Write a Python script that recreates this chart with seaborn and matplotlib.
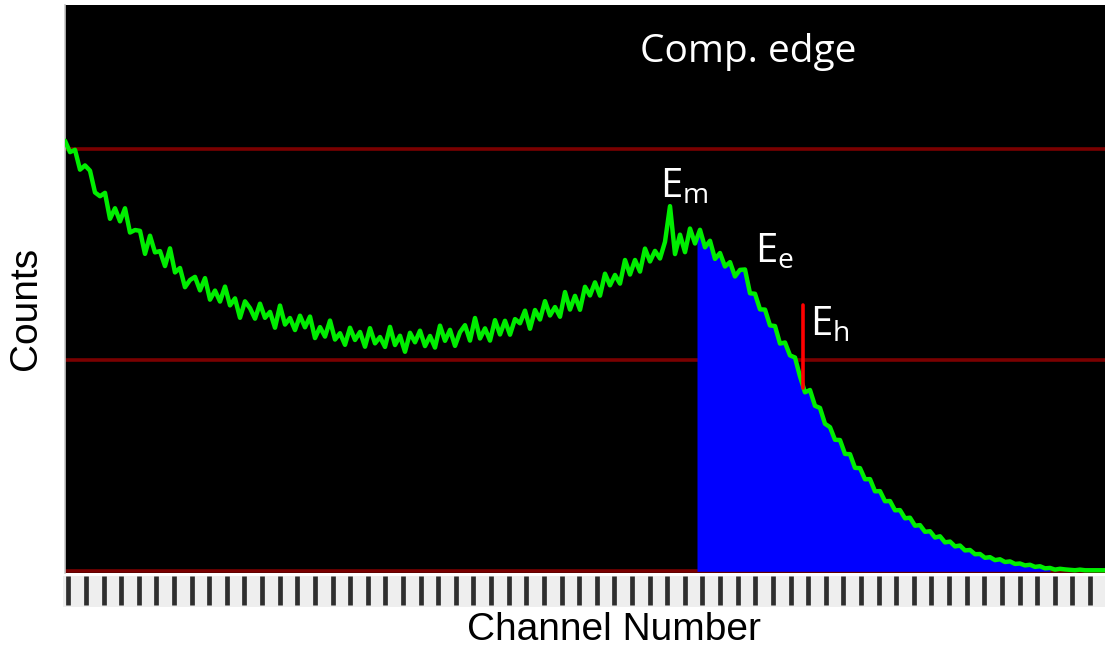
import numpy as np
import pandas as pd
import matplotlib
matplotlib.use("Agg")
import matplotlib.pyplot as plt
import seaborn as sns

# ---------------- data ----------------
channels = list(range(0, 1045, 5))
counts = [
    2040, 1986, 1997, 1903, 1923, 1898, 1795, 1777, 1793, 1670,
    1720, 1658, 1720, 1605, 1617, 1613, 1504, 1590, 1511, 1517,
    1446, 1530, 1416, 1437, 1346, 1380, 1395, 1331, 1389, 1287,
    1330, 1278, 1349, 1260, 1293, 1201, 1279, 1247, 1197, 1268,
    1201, 1229, 1154, 1259, 1169, 1200, 1143, 1211, 1156, 1207,
    1105, 1157, 1112, 1188, 1098, 1128, 1073, 1154, 1096, 1134,
    1064, 1152, 1080, 1110, 1063, 1158, 1072, 1116, 1040, 1130,
    1085, 1140, 1067, 1115, 1060, 1164, 1092, 1144, 1068, 1133,
    1166, 1093, 1200, 1103, 1151, 1093, 1190, 1122, 1187, 1121,
    1195, 1175, 1235, 1149, 1238, 1193, 1280, 1212, 1252, 1206,
    1323, 1240, 1305, 1239, 1348, 1307, 1369, 1306, 1410, 1355,
    1404, 1363, 1475, 1406, 1475, 1420, 1529, 1468, 1518, 1482,
    1561, 1730, 1503, 1595, 1512, 1624, 1553, 1618, 1535, 1566,
    1480, 1508, 1444, 1465, 1397, 1428, 1430, 1317, 1315, 1241,
    1240, 1165, 1162, 1079, 1084, 1023, 1013, 923, 848, 859,
    784, 774, 699, 683, 623, 622, 556, 555, 490, 489,
    436, 437, 379, 380, 332, 333, 289, 290, 251, 254,
    216, 219, 187, 190, 160, 166, 137, 141, 118, 122,
    99, 101, 81, 82, 64, 67, 53, 57, 44, 47,
    35, 37, 28, 31, 21, 24, 14, 16, 8, 12,
    9, 7, 5, 8, 5, 5, 5, 5, 5,
]
grid_levels = [0, 1000, 2000]
edge_start = 632      # start of shaded Compton-edge region (channel)
edge_end = 985        # end of shaded region (channel)
eh_channel = 738      # E_h marker position
eh_range = [870, 1260]
annotations = [("E", "m", 595, 1773), ("E", "e", 690, 1465), ("E", "h", 745, 1119)]
title_text = "Comp. edge"

df = pd.DataFrame({"channel": channels, "counts": counts})

# ---------------- figure ----------------
sns.set_theme(style="white")
plt.rcParams["font.family"] = ["Liberation Sans", "DejaVu Sans"]

W, H = 1105, 653
fig = plt.figure(figsize=(W / 100, H / 100), dpi=100)
fig.patch.set_facecolor("white")

ax = fig.add_axes([65 / W, 1 - 573 / H, 1 - 65 / W, (573 - 5) / H])
ax.set_facecolor("black")
xmin, xmax = 0, 1040
ax.set_xlim(xmin, xmax)
ax.set_ylim(-8, 2683)

for lv in grid_levels:
    ax.axhline(lv, color="#7a0000", lw=2.6, zorder=1)

# shaded region under curve
x_arr = np.array(channels, dtype=float)
y_arr = np.array(counts, dtype=float)
mask = (x_arr > edge_start) & (x_arr <= edge_end)
fx = np.concatenate([[edge_start], x_arr[mask]])
fy = np.concatenate([[np.interp(edge_start, x_arr, y_arr)], y_arr[mask]])
ax.fill_between(fx, 0, fy, color="#0000ff", lw=0, zorder=2)

sns.lineplot(data=df, x="channel", y="counts", ax=ax, color="#00ee00",
             lw=3.2, zorder=3, legend=False)

ax.plot([eh_channel, eh_channel], eh_range, color="#ff0000", lw=2.6, zorder=4)

for big, sub, xc, yc in annotations:
    ax.text(xc, yc, r"$\mathregular{%s_{%s}}$" % (big, sub), color="white",
            fontsize=29, family=["Open Sans", "DejaVu Sans"], zorder=5)

ax.text((640 - 65) / 1040, (573 - 52) / 568, title_text, transform=ax.transAxes,
        color="white", fontsize=28, family=["Open Sans", "DejaVu Sans"],
        ha="left", va="center")

ax.set_xticks([])
ax.set_yticks([])
for s in ["top", "right", "bottom"]:
    ax.spines[s].set_visible(False)
ax.spines["left"].set_color("#c8c8c8")
ax.spines["left"].set_linewidth(1.2)
ax.set_xlabel("")
ax.set_ylabel("")

# ruler strip under the plot
ax2 = fig.add_axes([63 / W, 1 - 607 / H, 1 - 63 / W, (607 - 576) / H])
ax2.set_facecolor("#eeeeee")
ax2.set_xlim(-2, xmax)
ax2.set_ylim(0, 1)
ruler = np.arange(59) * 17.616 + 3.3
ax2.vlines(ruler, 0.06, 1.0, color="#2e2e2e", lw=3.4)
ax2.set_xticks([])
ax2.set_yticks([])
for s in ax2.spines.values():
    s.set_visible(False)

fig.text(614 / W, 1 - 630 / H, "Channel Number", ha="center", va="center",
         fontsize=28, color="black")
fig.text(26 / W, 1 - 308 / H, "Counts", ha="center", va="center",
         fontsize=28, color="black", rotation=90)

fig.savefig("out.png", dpi=100, facecolor="white")
